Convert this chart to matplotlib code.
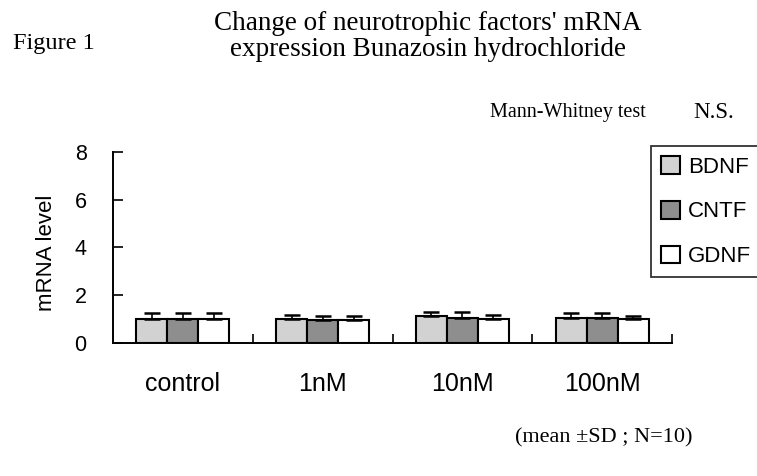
import numpy as np
import matplotlib
matplotlib.use("Agg")
import matplotlib.pyplot as plt

# valeurs (moyenne et SD, barres d'erreur vers le haut seulement)
categories = ["control", "1nM", "10nM", "100nM"]
series = ["BDNF", "CNTF", "GDNF"]
bdnf = [1.00, 1.00, 1.12, 1.06]
cntf = [1.00, 0.98, 1.06, 1.06]
gdnf = [1.00, 0.98, 1.00, 1.02]
bdnf_sd = [0.25, 0.18, 0.18, 0.20]
cntf_sd = [0.25, 0.17, 0.23, 0.20]
gdnf_sd = [0.27, 0.17, 0.19, 0.13]
yticks = [0, 2, 4, 6, 8]

means = [bdnf, cntf, gdnf]
sds = [bdnf_sd, cntf_sd, gdnf_sd]
colors = ["#d2d2d2", "#8e8e8e", "#ffffff"]

sans = "Liberation Sans"
serif = "Liberation Serif"

fig = plt.figure(figsize=(7.57, 4.76), dpi=100)
ax = fig.add_axes([0.1493, 0.2794, 0.7384, 0.4013])

x = np.arange(len(categories))
w = 0.222
for k, name in enumerate(series):
    pos = x + (k - 1) * w
    ax.bar(pos, means[k], width=w, color=colors[k], edgecolor="black",
           linewidth=1.5, label=name, zorder=2)
    ax.errorbar(pos, means[k], yerr=[np.zeros(len(x)), sds[k]], fmt="none",
                ecolor="black", elinewidth=1.2, capsize=5.5, capthick=1.8, zorder=3)

ax.set_xlim(-0.5, 3.5)
ax.set_ylim(0, 8)
ax.spines["top"].set_visible(False)
ax.spines["right"].set_visible(False)
ax.spines["left"].set_linewidth(1.4)
ax.spines["bottom"].set_linewidth(1.4)

ax.set_yticks(yticks)
ax.set_yticklabels([str(v) for v in yticks], fontsize=15.5, family=sans)
ax.tick_params(axis="y", direction="in", length=7, width=1.2, pad=19)

# ticks de l'axe x aux séparations des catégories, labels au centre
ax.set_xticks(x + 0.5)
ax.set_xticklabels([])
ax.tick_params(axis="x", direction="in", length=6.5, width=1.2)
ax.set_xticks(x, minor=True)
ax.set_xticklabels(categories, minor=True, fontsize=18, family=sans)
ax.tick_params(axis="x", which="minor", length=0, pad=21)

fig.text(46 / 757, 1 - 253 / 476, "mRNA level", rotation=90, ha="center", va="center",
         fontsize=16, family=sans)

leg = ax.legend(loc="upper left", bbox_to_anchor=(0.860, 0.0, 0.16, 0.6933),
                bbox_transform=fig.transFigure, mode="expand", borderaxespad=0,
                frameon=True, fancybox=False, edgecolor="black",
                prop={"family": sans, "size": 16},
                handlelength=0.85, handleheight=0.85, handletextpad=0.36,
                labelspacing=1.05, borderpad=0.45)
leg.get_frame().set_linewidth(1.3)

fig.text(0.565, 1 - 23 / 476, "Change of neurotrophic factors' mRNA", ha="center", va="center",
         fontsize=19.5, family=serif)
fig.text(0.566, 1 - 49 / 476, "expression Bunazosin hydrochloride", ha="center", va="center",
         fontsize=19.5, family=serif)
fig.text(13 / 757, 1 - 43 / 476, "Figure 1", ha="left", va="center", fontsize=17.5, family=serif)
fig.text(490 / 757, 1 - 112 / 476, "Mann-Whitney test", ha="left", va="center", fontsize=14.5, family=serif)
fig.text(693 / 757, 1 - 112 / 476, "N.S.", ha="left", va="center", fontsize=16.5, family=serif)
fig.text(515 / 757, 1 - 438 / 476, "(mean \u00b1SD ; N=10)", ha="left", va="center", fontsize=16, family=serif)

fig.savefig("out.png", dpi=100)
